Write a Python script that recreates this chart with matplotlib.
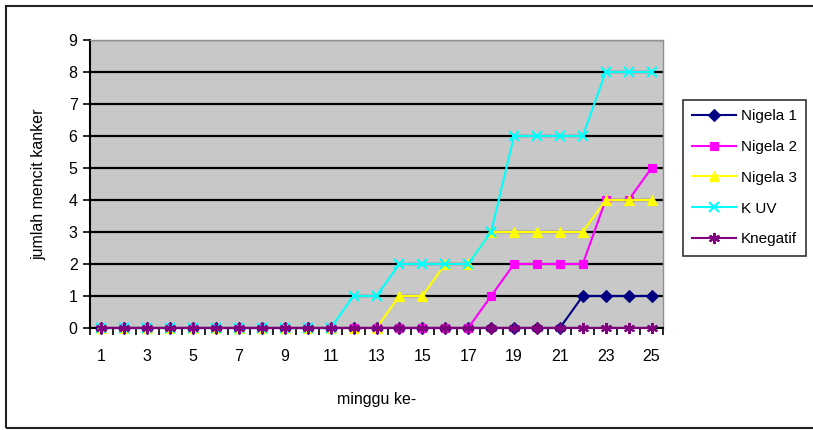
import matplotlib.pyplot as plt
from matplotlib.patches import Rectangle

plt.rcParams['font.family'] = ['Liberation Sans', 'DejaVu Sans']

weeks = list(range(1, 26))
nigela1 = [0] * 21 + [1, 1, 1, 1]
nigela2 = [0] * 17 + [1, 2, 2, 2, 2, 4, 4, 5]
nigela3 = [0] * 13 + [1, 1, 2, 2, 3, 3, 3, 3, 3, 4, 4, 4]
k_uv = [0] * 11 + [1, 1, 2, 2, 2, 2, 3, 6, 6, 6, 6, 8, 8, 8]
knegatif = [0] * 25

series = [
    ("Nigela 1", nigela1, "#000080", "D", 6),
    ("Nigela 2", nigela2, "#ff00ff", "s", 6),
    ("Nigela 3", nigela3, "#ffff00", "^", 7),
    ("K UV", k_uv, "#00ffff", "x", 7),
    ("Knegatif", knegatif, "#800080", (6, 2, 0), 8),
]

fig = plt.figure(figsize=(8.13, 4.30), dpi=100)
ax = fig.add_axes([90 / 813, 1 - 328 / 430, (663 - 90) / 813, (328 - 40) / 430])
ax.set_facecolor("#c8c8c8")

for name, vals, color, marker, ms in series:
    ax.plot(weeks, vals, color=color, marker=marker, markersize=ms,
            markeredgewidth=1.5 if marker in ("x", (6, 2, 0)) else 0.8,
            linewidth=1.5, label=name, clip_on=False, zorder=3)

ax.set_xlim(0.5, 25.5)
ax.set_ylim(0, 9)
ax.set_yticks(range(10))
ax.yaxis.grid(True, color="black", linewidth=1.6, zorder=1)
ax.set_axisbelow(True)

# category axis: ticks between weeks, labels on odd weeks
ax.set_xticks([w + 0.5 for w in range(0, 26)])
ax.set_xticklabels([])
ax.set_xticks(weeks[::2], minor=True)
ax.set_xticklabels([str(w) for w in weeks[::2]], minor=True)
ax.tick_params(axis="x", which="minor", length=0, pad=15, labelsize=11.5)
ax.tick_params(axis="x", which="major", length=5, width=1.2, direction="out")
ax.tick_params(axis="y", length=5, width=1.2, labelsize=11.5, pad=4)

for side in ("left", "bottom"):
    ax.spines[side].set_linewidth(1.5)
for side in ("top", "right"):
    ax.spines[side].set_color("#909090")
    ax.spines[side].set_linewidth(1.0)

ax.set_ylabel("jumlah mencit kanker", fontsize=11.5, labelpad=16)
ax.set_xlabel("minggu ke-", fontsize=11.5, labelpad=20)

leg = ax.legend(loc="upper left", bbox_to_anchor=(683 / 813, 1 - 100 / 430),
                bbox_transform=fig.transFigure, fontsize=11, frameon=True,
                fancybox=False, edgecolor="black", handlelength=2.9,
                labelspacing=1.1, borderpad=0.6, handletextpad=0.3,
                borderaxespad=0)
leg.get_frame().set_linewidth(1.2)

fig.patches.append(Rectangle((6 / 813, 2 / 430), 1.0, 1 - 8 / 430,
                             transform=fig.transFigure, fill=False,
                             edgecolor="#222222", linewidth=1.5))

fig.savefig("out.png", dpi=100)
